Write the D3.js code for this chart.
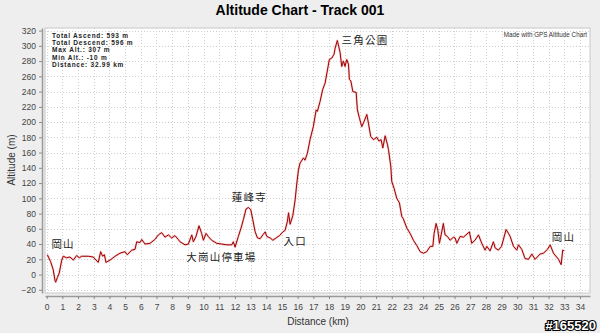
<!DOCTYPE html>
<html>
<head>
<meta charset="utf-8">
<script src="https://cdn.jsdelivr.net/npm/d3@7"></script>
<style>
  html, body { margin: 0; padding: 0; background: #eeeeee; }
  svg { display: block; }
  text { font-family: "Liberation Sans", Arial, sans-serif; }
  .cjk { font-family: "Noto Sans CJK TC", "Noto Sans CJK SC", sans-serif; }
</style>
</head>
<body>
<svg id="chart" width="600" height="333"></svg>
<script>
// Track profile: distance along the route (km) and altitude (m)
const distanceKm = [
  0.04, 0.25, 0.42, 0.53, 0.57, 0.68, 0.8, 0.96, 1.06, 1.27, 1.48, 1.7, 1.91, 2.08, 2.23, 2.65, 2.97,
  3.14, 3.29, 3.44, 3.57, 3.68, 3.78, 4.04, 4.36, 4.67, 4.99, 5.14, 5.42, 5.63, 5.74, 5.95, 6.06,
  6.27, 6.59, 6.9, 7.12, 7.33, 7.54, 7.76, 7.97, 8.18, 8.39, 8.5, 8.82, 9.03, 9.25, 9.35, 9.52,
  9.71, 9.88, 9.99, 10.16, 10.3, 10.52, 10.84, 11.16, 11.48, 11.8, 11.9, 12.01, 12.22, 12.39,
  12.54, 12.71, 12.86, 13.01, 13.14, 13.29, 13.44, 13.61, 13.78, 13.93, 14.03, 14.25, 14.42,
  14.63, 14.84, 15.06, 15.2, 15.35, 15.42, 15.52, 15.69, 15.84, 15.95, 16.05, 16.15, 16.37,
  16.47, 16.62, 16.79, 17.0, 17.18, 17.26, 17.43, 17.6, 17.75, 18.02, 18.18, 18.32, 18.39,
  18.53, 18.62, 18.71, 18.81, 18.92, 19.02, 19.13, 19.24, 19.3, 19.39, 19.52, 19.73, 19.81,
  19.94, 20.09, 20.24, 20.41, 20.51, 20.66, 20.83, 21.05, 21.19, 21.32, 21.43, 21.58, 21.72,
  21.79, 21.94, 22.0, 22.15, 22.32, 22.49, 22.64, 22.74, 22.96, 23.17, 23.38, 23.6, 23.81,
  24.02, 24.23, 24.45, 24.62, 24.7, 24.83, 24.94, 25.04, 25.15, 25.29, 25.4, 25.55, 25.72,
  25.93, 26.04, 26.15, 26.36, 26.57, 26.95, 27.1, 27.31, 27.53, 27.74, 27.95, 28.06, 28.27,
  28.48, 28.59, 28.8, 29.0, 29.29, 29.44, 29.55, 29.76, 29.97, 30.08, 30.29, 30.5, 30.72,
  30.93, 31.14, 31.46, 31.67, 31.93, 32.1, 32.31, 32.63, 32.8, 32.9, 32.99
];
const altitudeM = [
  26, 17, 6, -8, -10, -4, 2, 19, 24, 22, 23, 19, 25, 22, 24, 24, 23,
  19, 16, 30, 24, 26, 16, 19, 24, 28, 30, 26, 32, 33, 43, 42, 46,
  40, 41, 46, 52, 55, 49, 52, 48, 51, 46, 43, 39, 40, 52, 43, 50,
  64, 54, 45, 54, 50, 45, 41, 40, 39, 39, 43, 36, 50, 61,
  72, 86, 88, 85, 72, 56, 48, 47, 52, 56, 50, 48, 45,
  48, 51, 56, 58, 70, 81, 66, 77, 98, 120, 137, 146, 153,
  150, 159, 177, 194, 216, 214, 227, 243, 251, 282, 284, 289, 297,
  307, 299, 291, 273, 280, 273, 282, 276, 256, 254, 240, 239, 216,
  205, 194, 201, 210, 199, 181, 177, 180, 175, 177, 166, 182, 171,
  164, 142, 122, 113, 100, 94, 76, 73, 61, 54, 45, 38, 30,
  28, 30, 37, 37, 54, 67, 58, 41, 52, 67, 52, 50, 45,
  49, 48, 41, 50, 49, 56, 41, 45, 52, 41, 32, 37, 31,
  43, 35, 32, 37, 59, 54, 50, 37, 32, 39, 33, 21, 20,
  27, 20, 27, 28, 33, 39, 28, 20, 13, 32, 31
];

// Axis ticks
const xTicks = d3.range(0, 35, 1);
const yTicks = d3.range(-20, 321, 20);

// Place-name annotations along the route
const placeNames = ["岡山", "大崗山停車場", "蓮峰寺", "入口", "三角公園", "岡山"];
const placeKm    = [0.3, 8.9, 11.8, 15.1, 18.8, 32.2];
const placeAlt   = [35, 18, 96, 39, 302, 44];

// Track summary
const statLines = [
  "Total Ascend: 593 m",
  "Total Descend: 596 m",
  "Max Alt.: 307 m",
  "Min Alt.: -10 m",
  "Distance: 32.99 km"
];

const svg = d3.select("#chart");
const plot = { left: 45, right: 590, top: 28, bottom: 293 };

const x = d3.scaleLinear().domain([-0.108, 34.64]).range([plot.left, plot.right]);
const y = d3.scaleLinear().domain([-24.2, 323.4]).range([plot.bottom, plot.top]);

// Title
svg.append("text")
  .attr("x", 300).attr("y", 15)
  .attr("text-anchor", "middle")
  .attr("font-size", 14).attr("font-weight", "bold")
  .attr("fill", "#000")
  .text("Altitude Chart - Track 001");

// Plot background and frame
svg.append("rect")
  .attr("x", plot.left).attr("y", plot.top)
  .attr("width", plot.right - plot.left).attr("height", plot.bottom - plot.top)
  .attr("fill", "#ffffff").attr("stroke", "#c8c8c8").attr("stroke-width", 1);

// Dotted grid
const grid = svg.append("g").attr("stroke", "#cfcfcf").attr("stroke-dasharray", "1,2").attr("stroke-width", 1);
grid.selectAll("line.v").data(xTicks).join("line")
  .attr("x1", d => Math.round(x(d)) + 0.5).attr("x2", d => Math.round(x(d)) + 0.5)
  .attr("y1", plot.top).attr("y2", plot.bottom);
grid.selectAll("line.h").data(yTicks).join("line")
  .attr("x1", plot.left).attr("x2", plot.right)
  .attr("y1", d => Math.round(y(d)) + 0.5).attr("y2", d => Math.round(y(d)) + 0.5);

// Axes, set slightly apart from the plot frame
const xAxis = svg.append("g")
  .attr("transform", "translate(0,296)")
  .call(d3.axisBottom(x).tickValues(xTicks).tickSizeInner(3).tickSizeOuter(0).tickPadding(5));
const yAxis = svg.append("g")
  .attr("transform", "translate(42,0)")
  .call(d3.axisLeft(y).tickValues(yTicks).tickSizeInner(3).tickSizeOuter(0).tickPadding(3));
[xAxis, yAxis].forEach(a => {
  a.select(".domain").attr("stroke", "#9a9a9a").attr("stroke-width", 1.5);
  a.selectAll(".tick line").attr("stroke", "#8a8a8a");
  a.selectAll(".tick text").attr("fill", "#444").attr("font-size", 8.5)
    .attr("font-family", "Liberation Sans, Arial, sans-serif");
});

// Axis titles
svg.append("text")
  .attr("x", 318).attr("y", 325)
  .attr("text-anchor", "middle").attr("font-size", 10).attr("fill", "#333")
  .text("Distance (km)");
svg.append("text")
  .attr("transform", "translate(15,160) rotate(-90)")
  .attr("text-anchor", "middle").attr("font-size", 10).attr("fill", "#333")
  .text("Altitude (m)");

// Altitude profile
const profile = distanceKm.map((d, i) => [d, altitudeM[i]]);
const line = d3.line().x(d => x(d[0])).y(d => y(d[1]));
svg.append("path")
  .datum(profile)
  .attr("fill", "none")
  .attr("stroke", "#e06060").attr("stroke-opacity", 0.35).attr("stroke-width", 2.2)
  .attr("stroke-linejoin", "round")
  .attr("d", line);
svg.append("path")
  .datum(profile)
  .attr("fill", "none")
  .attr("stroke", "#a00000").attr("stroke-width", 1)
  .attr("stroke-linejoin", "round")
  .attr("d", line);

// Summary box text
svg.append("g").selectAll("text").data(statLines).join("text")
  .attr("x", 52).attr("y", (d, i) => 37.5 + i * 7.4)
  .attr("font-size", 6.5).attr("font-weight", "bold").attr("letter-spacing", 0.75)
  .attr("fill", "#222")
  .text(d => d);

svg.append("text")
  .attr("x", 587).attr("y", 37)
  .attr("text-anchor", "end").attr("font-size", 6.3).attr("fill", "#333")
  .text("Made with GPS Altitude Chart");

// Place names
svg.append("g").selectAll("text").data(placeNames).join("text")
  .attr("class", "cjk")
  .attr("x", (d, i) => x(placeKm[i]))
  .attr("y", (d, i) => y(placeAlt[i]))
  .attr("font-size", 10.5).attr("letter-spacing", 1.2).attr("fill", "#222")
  .text(d => d);

// Corner tag
svg.append("text")
  .attr("x", 596).attr("y", 330)
  .attr("text-anchor", "end")
  .attr("font-size", 13).attr("font-weight", "bold")
  .attr("fill", "#fff").attr("stroke", "#000").attr("stroke-width", 2.2)
  .attr("paint-order", "stroke")
  .text("#165520");
</script>
</body>
</html>
